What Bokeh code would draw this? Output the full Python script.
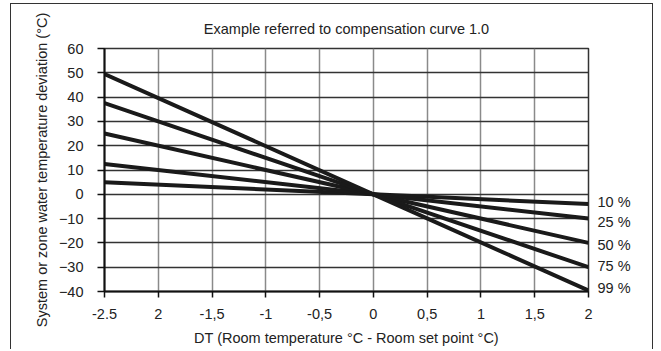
from bokeh.plotting import figure
from bokeh.models import Range1d, FixedTicker, LinearAxis, CustomJSTickFormatter
from bokeh.embed import file_html
from bokeh.resources import INLINE

# ---- data ----
x_points = [-2.5, 0, 2]
series_names = ["10 %", "25 %", "50 %", "75 %", "99 %"]
start_values = [5, 12.5, 25, 37.5, 49.5]     # y at x = -2.5
mid_values = [0, 0, 0, 0, 0]                 # y at x = 0
end_values = [-4, -10, -20, -30, -39.6]      # y at x = 2
x_ticks = [-2.5, -2, -1.5, -1, -0.5, 0, 0.5, 1, 1.5, 2]
x_tick_labels = ["-2.5", "2", "-1,5", "-1", "-0,5", "0", "0,5", "1", "1,5", "2"]
y_ticks = [-40, -30, -20, -10, 0, 10, 20, 30, 40, 50, 60]

FONT = "Liberation Sans"
TXT = "#222222"
FS = "14.5px"

p = figure(width=643, height=346, output_backend="svg", toolbar_location=None,
           x_range=Range1d(-2.5, 2), y_range=Range1d(-40, 60),
           min_border_left=93, min_border_right=66, min_border_top=44, min_border_bottom=59,
           title="Example referred to compensation curve 1.0")
p.styles = {"border-top": "1px solid #333", "border-left": "1px solid #333",
            "border-right": "1px solid #333", "margin-left": "10px", "margin-top": "3px"}

p.title.align = "center"
p.title.text_font = FONT
p.title.text_font_size = FS
p.title.text_font_style = "normal"
p.title.text_color = TXT
p.title.offset = -5
p.title.standoff = 23

p.background_fill_color = "white"
p.border_fill_color = "white"
p.outline_line_color = "#333333"
p.outline_line_width = 1.5

# grids
p.xgrid.ticker = FixedTicker(ticks=x_ticks)
p.ygrid.ticker = FixedTicker(ticks=y_ticks)
p.xgrid.grid_line_color = "#8a8a8a"
p.xgrid.grid_line_width = 1.5
p.ygrid.grid_line_color = "#333333"
p.ygrid.grid_line_width = 1.5

# axes
labels_js = "var t=%s; var l=%s; for (var i=0;i<t.length;i++){ if (Math.abs(t[i]-tick)<1e-6) return l[i]; } return '';" % (
    str(x_ticks), str(x_tick_labels).replace("'", '"'))
p.xaxis.ticker = FixedTicker(ticks=x_ticks)
p.xaxis.formatter = CustomJSTickFormatter(code=labels_js)
p.yaxis.ticker = FixedTicker(ticks=y_ticks)

for ax in (p.xaxis, p.yaxis):
    ax.axis_line_color = "#111111"
    ax.axis_line_width = 2
    ax.major_tick_line_color = "#111111"
    ax.major_tick_line_width = 1.5
    ax.major_tick_in = 0
    ax.minor_tick_line_color = None
    ax.major_label_text_font = FONT
    ax.major_label_text_font_size = FS
    ax.major_label_text_color = TXT
    ax.axis_label_text_font = FONT
    ax.axis_label_text_font_size = FS
    ax.axis_label_text_font_style = "normal"
    ax.axis_label_text_color = TXT

p.xaxis.major_tick_out = 6
p.yaxis.major_tick_out = 7
p.xaxis.major_label_standoff = 11
p.yaxis.major_label_standoff = 14
p.xaxis.axis_label = "DT (Room temperature °C - Room set point °C)"
p.yaxis.axis_label = "System or zone water temperature deviation (°C)"
p.xaxis.axis_label_standoff = 8
p.yaxis.axis_label_standoff = 6

# lines
for s, m, e in zip(start_values, mid_values, end_values):
    p.line(x_points, [s, m, e], line_color="#1a1a1a", line_width=4)

# right-side series labels, drawn as an extra axis at the line ends
# (small data-unit nudges keep neighbouring labels apart)
nudges = [1, -1.6, -0.7, 0.3, 1.2]
label_pos = [e + d for e, d in zip(end_values, nudges)]
names_js = "var t=%s; var l=%s; for (var i=0;i<t.length;i++){ if (Math.abs(t[i]-tick)<1e-6) return l[i]; } return '';" % (
    str(label_pos), str(series_names).replace("'", '"'))
right = LinearAxis(ticker=FixedTicker(ticks=label_pos), formatter=CustomJSTickFormatter(code=names_js))
right.axis_line_color = None
right.major_tick_line_color = None
right.minor_tick_line_color = None
right.major_tick_out = 0
right.major_tick_in = 0
right.major_label_standoff = 9
right.major_label_text_font = FONT
right.major_label_text_font_size = FS
right.major_label_text_color = TXT
p.add_layout(right, "right")

open("out.html", "w").write(file_html(p, INLINE))
